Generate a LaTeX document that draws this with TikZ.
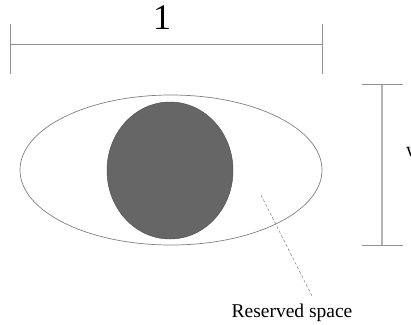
\documentclass[tikz,border=0pt]{standalone}
\usepackage{fontspec}
\setmainfont{Liberation Serif}
\usetikzlibrary{shapes.geometric}
\definecolor{linegray}{HTML}{808080}
\definecolor{dimgray}{HTML}{909090}
\definecolor{vgray}{HTML}{B4B4B4}
\definecolor{fillgray}{HTML}{666666}
\begin{document}
\begin{tikzpicture}[x=1pt,y=-1pt,
  dimline/.style={draw=dimgray,line width=0.8pt},
  outerell/.style={ellipse,draw=linegray,line width=0.7pt,minimum width=302pt,minimum height=150pt,inner sep=0pt},
  innerell/.style={ellipse,draw=fillgray!80!black,fill=fillgray,line width=0.5pt,minimum width=126pt,minimum height=137pt,inner sep=0pt},
  leader/.style={draw=linegray,dashed,dash pattern=on 3pt off 2pt,line width=0.5pt},
  lbl/.style={inner sep=0pt,text=black}]
\useasboundingbox (0,0) rectangle (411,324);
% top dimension
\coordinate (tl) at (10,44);
\coordinate (tr) at (322,44);
\coordinate (tlt) at (10,24); \coordinate (tlb) at (10,74);
\coordinate (trt) at (322,24); \coordinate (trb) at (322,74);
\draw[dimline] (tl) -- (tr);
\draw[dimline] (tlt) -- (tlb);
\draw[dimline] (trt) -- (trb);
\node[lbl,font=\fontsize{36}{36}\selectfont,anchor=base] (one) at (162,29) {1};
% right dimension
\coordinate (vt) at (382,84);
\coordinate (vb) at (382,245);
\coordinate (vtl) at (362,84); \coordinate (vtr) at (403,84);
\coordinate (vbl) at (362,245); \coordinate (vbr) at (403,245);
\draw[draw=vgray,line width=1.1pt] (vt) -- (vb);
\draw[dimline] (vtl) -- (vtr);
\draw[dimline] (vbl) -- (vbr);
\node[lbl,font=\fontsize{20}{20}\selectfont,anchor=base west] (w) at (406,156) {w};
% ellipses
\node[outerell] (outer) at (171,170) {};
\node[innerell] (inner) at (170,170.5) {};
% leader
\coordinate (ls) at (261,195);
\node[lbl,font=\fontsize{19.5}{20}\selectfont,anchor=base] (res) at (292,317) {Reserved space};
\coordinate (le) at (312,296);
\draw[leader] (ls) -- (le);
\end{tikzpicture}
\end{document}
